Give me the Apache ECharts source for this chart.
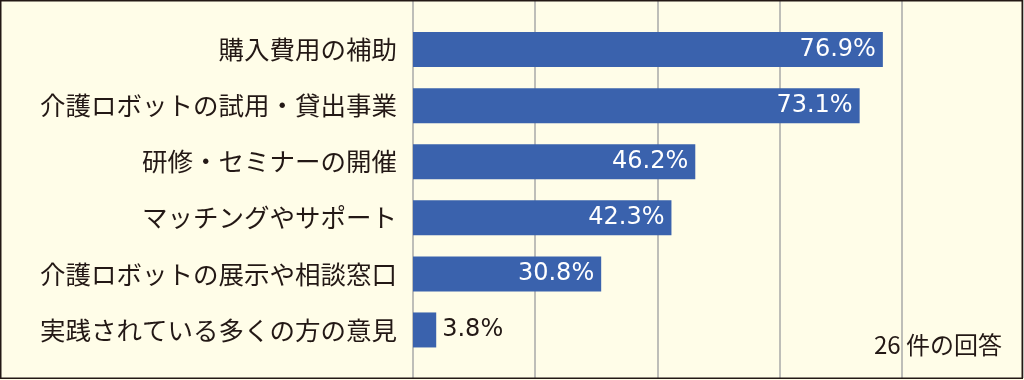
<!DOCTYPE html>
<html><head><meta charset="utf-8">
<script src="https://cdn.jsdelivr.net/npm/echarts@6/dist/echarts.min.js"></script>
<style>html,body{margin:0;padding:0;background:#FFFDE8;}#c{width:1024px;height:380px;}</style>
</head><body><div id="c"></div>
<script>
const categories = ['購入費用の補助','介護ロボットの試用・貸出事業','研修・セミナーの開催','マッチングやサポート','介護ロボットの展示や相談窓口','実践されている多くの方の意見'];
const values = [76.9, 73.1, 46.2, 42.3, 30.8, 3.8];
const xTicks = [0, 20, 40, 60, 80, 100];
const note = '26 件の回答';

const chart = echarts.init(document.getElementById('c'), null, {renderer:'canvas'});
const labelFont = '"Noto Sans CJK JP", sans-serif';
const data = values.map(v => v < 10 ? {value: v, label: {position: 'right', color: '#231815', distance: 6}} : v);
chart.setOption({
  backgroundColor: '#FFFDE8',
  animation: false,
  grid: [
    {left: 413, right: 0, top: 21.5, bottom: 22, containLabel: false},
    {left: 413, right: 0, top: 0, bottom: 2, containLabel: false}
  ],
  xAxis: [
    {gridIndex: 0, type: 'value', min: xTicks[0], max: xTicks[xTicks.length-1], interval: 20, show: false, splitLine: {show: false}},
    {gridIndex: 1, type: 'value', min: xTicks[0], max: xTicks[xTicks.length-1], interval: 20,
     axisLine: {show: false}, axisTick: {show: false}, axisLabel: {show: false},
     splitLine: {show: true, lineStyle: {color: '#a8a8a8', width: 1.5}}}
  ],
  yAxis: [
    {gridIndex: 0, type: 'category', data: categories, inverse: true,
     axisLine: {show: false}, axisTick: {show: false},
     axisLabel: {fontFamily: labelFont, fontSize: 25.5, color: '#231815', margin: 16}},
    {gridIndex: 1, type: 'category', data: ['a'], show: false}
  ],
  series: [{
    type: 'bar', xAxisIndex: 0, yAxisIndex: 0, data: data,
    barWidth: 35,
    itemStyle: {color: '#3A62AD'},
    label: {show: true, position: 'insideRight', distance: 7, formatter: '{c}%',
      fontFamily: '"DejaVu Sans", sans-serif', fontSize: 24, color: '#ffffff'}
  }],
  graphic: [
    {type: 'rect', shape: {x: 0.75, y: 0.75, width: 1021.5, height: 377.5}, style: {fill: null, stroke: '#231815', lineWidth: 1.5}, z: 100},
    {type: 'text', left: 874, top: 333, style: {text: note, font: '24px "Noto Sans CJK JP", sans-serif', fill: '#231815'}, z: 100}
  ]
});
</script></body></html>
